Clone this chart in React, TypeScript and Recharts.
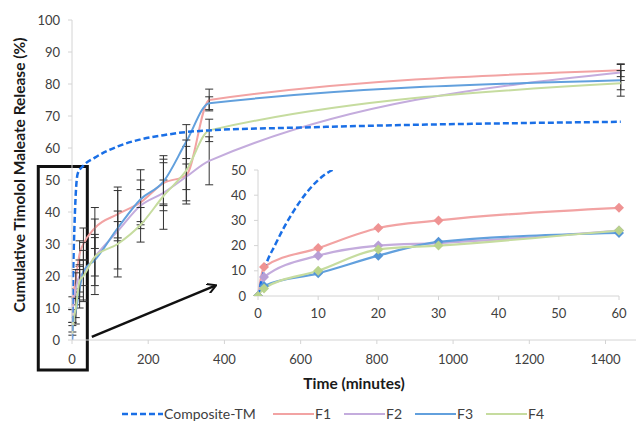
import { LineChart, Line, XAxis, YAxis, ErrorBar, ReferenceArea, ReferenceLine } from "recharts";

// sampling times (minutes) for F1-F4
const timeMin = [0, 1, 10, 20, 30, 60, 120, 180, 240, 300, 360, 1440];

const f1 = [0, 11.5, 19, 27, 30, 35, 39.3, 43, 49, 51.5, 75, 84.3];
const f2 = [0, 7.5, 16, 20, 21, 26, 34, 42, 46, 51, 56, 83.6];
const f3 = [0, 4, 9, 16, 21.5, 25, 35, 44, 49.5, 62, 74, 81.2];
const f4 = [0, 3, 10, 18.5, 20, 26, 30, 36, 45, 53, 65.5, 80.2];

// +/- error (SD)
const f1Err = [null, 2, 3, 4, 5, 6.4, 7.4, 7, 8.6, 9, 3.4, 2];
const f2Err = [null, 2, 5, 5, 4, 6, 3, 5, 4, 4, 7.5, 2.5];
const f3Err = [null, 1.5, 4, 6, 9, 8, 12.8, 9.2, 7, 5.3, 2, 3];
const f4Err = [null, 1.5, 3, 5, 8, 11.8, 10.3, 5.4, 10.4, 9.5, 3.5, 4];

// composite (no error bars)
const compTime = [0, 1, 3, 6, 10, 15, 30, 60, 120, 180, 240, 300, 360, 600, 1440];
const compValue = [0, 10, 21, 34, 46, 52, 54.5, 57, 60.5, 62.7, 64, 65, 65.5, 66.4, 68.2];

const xTicks = [0, 200, 400, 600, 800, 1000, 1200, 1400];
const yTicks = [0, 10, 20, 30, 40, 50, 60, 70, 80, 90, 100];
const insetXTicks = [0, 10, 20, 30, 40, 50, 60];
const insetYTicks = [0, 10, 20, 30, 40, 50];

const series = [
  { key: "f1", name: "F1", color: "#f2a3a3", dot: "#ef9393", err: "f1Err" },
  { key: "f2", name: "F2", color: "#c4acdd", dot: "#b89fd6", err: "f2Err" },
  { key: "f3", name: "F3", color: "#62a0dd", dot: "#5595d6", err: "f3Err" },
  { key: "f4", name: "F4", color: "#c6dc9f", dot: "#b9d38c", err: "f4Err" },
];
const compColor = "#1a6fe6";

const rows = timeMin.map((t, i) => ({
  t,
  f1: f1[i],
  f2: f2[i],
  f3: f3[i],
  f4: f4[i],
  f1Err: f1Err[i],
  f2Err: f2Err[i],
  f3Err: f3Err[i],
  f4Err: f4Err[i],
}));
const compRows = compTime.map((t, i) => ({ t, comp: compValue[i] }));
const insetRows = rows.filter((r) => r.t <= 60);
const insetCompRows = compRows.filter((r) => r.t <= 60);

const font = "Lato, 'Open Sans', sans-serif";
const tickStyle = { fontSize: 13, fill: "#404040", fontFamily: font };
const titleStyle = { fontSize: 15.5, fontWeight: 700, fill: "#1a1a1a", fontFamily: font };
const axisGray = "#d4d4d4";

const legendItems = [
  { name: "Composite-TM", color: compColor, dash: "6 3", w: 2.5, box: 151 },
  ...series.map((s) => ({ name: s.name, color: s.color, dash: undefined, w: 2, box: 71 })),
];

const Diamond = (color: string) => (p: any) => {
  const { cx, cy, index } = p;
  if (cx == null || cy == null) return <g key={index} />;
  return (
    <path
      key={index}
      d={`M${cx},${cy - 5}L${cx + 5},${cy}L${cx},${cy + 5}L${cx - 5},${cy}Z`}
      fill={color}
    />
  );
};

const Arrow = (p: any) => (
  <g>
    <defs>
      <marker id="arrowHead" markerWidth="10" markerHeight="10" refX="8" refY="5" orient="auto" markerUnits="userSpaceOnUse">
        <path d="M0,0 L9,5 L0,10" fill="none" stroke="#111" strokeWidth={2} />
      </marker>
    </defs>
    <line x1={p.x1} y1={p.y1} x2={p.x2} y2={p.y2} stroke="#111" strokeWidth={2.5} markerEnd="url(#arrowHead)" />
  </g>
);

export default function App() {
  return (
    <div style={{ position: "absolute", left: 0, top: 0, width: 636, height: 421, background: "#fff", fontFamily: font }}>
      <LineChart width={636} height={421} margin={{ top: 20, right: 0, left: 32, bottom: 51 }}>
        <XAxis
          type="number"
          dataKey="t"
          domain={[0, 1480]}
          ticks={xTicks}
          allowDataOverflow
          tick={tickStyle}
          tickSize={4}
          tickMargin={11}
          height={30}
          stroke={axisGray}
          label={{ value: "Time (minutes)", position: "bottom", offset: 8, style: titleStyle }}
        />
        <YAxis
          type="number"
          domain={[0, 100]}
          ticks={yTicks}
          tick={tickStyle}
          tickSize={4}
          tickMargin={8}
          width={40}
          stroke={axisGray}
          label={{ value: "Cumulative Timolol Maleate Release (%)", angle: -90, position: "insideLeft", offset: -13, dy: -5, style: { ...titleStyle, textAnchor: "middle" } }}
        />
        {series.map((s) => (
          <Line
            key={s.key}
            data={rows}
            dataKey={s.key}
            type="monotone"
            stroke={s.color}
            strokeWidth={2}
            dot={false}
            isAnimationActive={false}
          >
            <ErrorBar dataKey={s.err} width={4} stroke="#333" strokeWidth={1} direction="y" />
          </Line>
        ))}
        <Line
          data={compRows}
          dataKey="comp"
          type="monotone"
          stroke={compColor}
          strokeWidth={2.5}
          strokeDasharray="6 3"
          dot={false}
          isAnimationActive={false}
        />
        <ReferenceArea x1={-88.5} x2={40.2} y1={-9.4} y2={54.2} ifOverflow="visible" fill="none" fillOpacity={0} stroke="#111" strokeWidth={3} />
        <ReferenceLine segment={[{ x: 52, y: 1 }, { x: 376, y: 17 }]} ifOverflow="visible" shape={Arrow} />
      </LineChart>

      <div style={{ position: "absolute", left: 210, top: 160 }}>
        <LineChart width={420} height={165} margin={{ top: 10, right: 11, left: 8, bottom: 4 }}>
          <XAxis
            type="number"
            dataKey="t"
            domain={[0, 60]}
            ticks={insetXTicks}
            tick={tickStyle}
            tickSize={4}
            tickMargin={9}
            height={25}
            stroke={axisGray}
          />
          <YAxis
            type="number"
            domain={[0, 50]}
            ticks={insetYTicks}
            allowDataOverflow
            tick={tickStyle}
            tickSize={4}
            tickMargin={8}
            width={40}
            stroke={axisGray}
          />
          {series.map((s) => (
            <Line
              key={s.key}
              data={insetRows}
              dataKey={s.key}
              type="monotone"
              stroke={s.color}
              strokeWidth={2.2}
              dot={Diamond(s.dot)}
              isAnimationActive={false}
            />
          ))}
          <Line
            data={insetCompRows}
            dataKey="comp"
            type="monotone"
            stroke={compColor}
            strokeWidth={2.5}
            strokeDasharray="6 3"
            dot={false}
            isAnimationActive={false}
          />
        </LineChart>
      </div>

      <div style={{ position: "absolute", left: 122, top: 405, display: "flex", alignItems: "center", fontSize: 14, color: "#404040" }}>
        {legendItems.map((it) => (
          <div key={it.name} style={{ display: "flex", alignItems: "center", width: it.box }}>
            <svg width={41} height={10}>
              <line x1={0} y1={5} x2={41} y2={5} stroke={it.color} strokeWidth={it.w} strokeDasharray={it.dash} />
            </svg>
            <span style={{ marginLeft: 1 }}>{it.name}</span>
          </div>
        ))}
      </div>
    </div>
  );
}
